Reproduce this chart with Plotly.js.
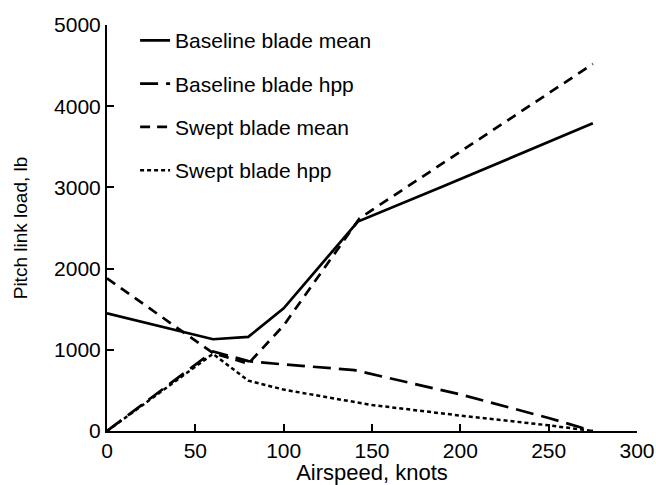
<!DOCTYPE html>
<html>
<head>
<meta charset="utf-8">
<script src="https://cdn.plot.ly/plotly-3.0.1.min.js"></script>
<style>html,body{margin:0;padding:0;background:#fff;}#chart{width:656px;height:485px;}</style>
</head>
<body>
<div id="chart"></div>
<script>
// Data
const baseMeanX = [0, 60, 80, 100, 142, 190, 275];
const baseMeanY = [1450, 1130, 1160, 1510, 2580, 3010, 3790];

const baseHppX = [0, 60, 80, 100, 140, 200, 250, 275];
const baseHppY = [0, 980, 860, 820, 750, 450, 160, 0];

const sweptMeanX = [0, 60, 80, 100, 143, 275];
const sweptMeanY = [1880, 960, 830, 1300, 2620, 4520];

const sweptHppX = [0, 60, 80, 100, 126, 150, 200, 250, 275];
const sweptHppY = [0, 950, 620, 510, 410, 320, 190, 70, 0];

const seriesNames = ["Baseline blade mean", "Baseline blade hpp", "Swept blade mean", "Swept blade hpp"];

const xTicks = [0, 50, 100, 150, 200, 250, 300];
const yTicks = [0, 1000, 2000, 3000, 4000, 5000];

const font = "Liberation Sans, Arial, Helvetica, sans-serif";

const traces = [
  {x: baseMeanX, y: baseMeanY, name: seriesNames[0], legendgroup: "a",
   mode: "lines", line: {color: "#000", width: 2.7, dash: "solid"}},
  {x: baseHppX, y: baseHppY, name: seriesNames[1], legendgroup: "b",
   mode: "lines", line: {color: "#000", width: 2.7, dash: "18px,8px"}},
  {x: sweptMeanX, y: sweptMeanY, name: seriesNames[2], legendgroup: "c",
   mode: "lines", line: {color: "#000", width: 2.7, dash: "10px,7px"}},
  {x: sweptHppX, y: sweptHppY, name: seriesNames[3], legendgroup: "d",
   mode: "lines", line: {color: "#000", width: 2.5, dash: "4px,3px"}}
];

const layout = {
  width: 656, height: 485,
  margin: {l: 107, r: 19, t: 25, b: 54},
  paper_bgcolor: "#fff", plot_bgcolor: "#fff",
  font: {family: font, color: "#000", size: 20},
  showlegend: true,
  legend: {
    x: 0.053, y: 1.012, xanchor: "left", yanchor: "top",
    bgcolor: "rgba(0,0,0,0)", traceorder: "grouped",
    tracegroupgap: 13,
    font: {family: font, size: 21, color: "#000"}
  },
  xaxis: {
    range: [0, 300], tickvals: xTicks, ticktext: xTicks.map(String),
    showgrid: false, zeroline: false, showline: true, linecolor: "#000", linewidth: 2,
    ticks: "inside", ticklen: 7, tickwidth: 2, tickcolor: "#000",
    tickfont: {size: 21, family: font},
    title: {text: "Airspeed, knots", font: {size: 22, family: font}, standoff: 2}
  },
  yaxis: {
    range: [0, 5000], tickvals: yTicks, ticktext: yTicks.map(String),
    showgrid: false, zeroline: false, showline: true, linecolor: "#000", linewidth: 2,
    ticks: "inside", ticklen: 7, tickwidth: 2, tickcolor: "#000",
    tickfont: {size: 21, family: font},
    title: {text: "Pitch link load, lb", font: {size: 19, family: font}, standoff: 21}
  }
};

Plotly.newPlot("chart", traces, layout, {displayModeBar: false, staticPlot: true});
</script>
</body>
</html>
